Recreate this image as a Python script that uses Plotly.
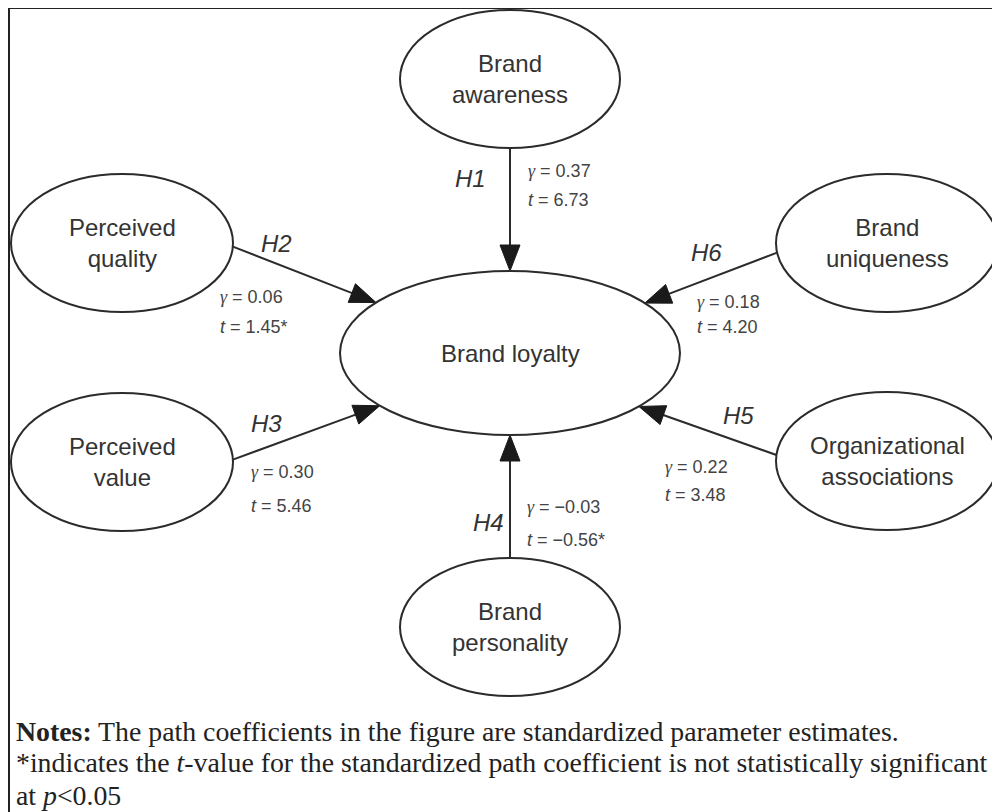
import math
import plotly.graph_objects as go

# ---------------- data ----------------
node_names = ["Brand awareness", "Perceived quality", "Brand uniqueness", "Brand loyalty",
              "Perceived value", "Organizational associations", "Brand personality"]
node_labels = ["Brand<br>awareness", "Perceived<br>quality", "Brand<br>uniqueness", "Brand loyalty",
               "Perceived<br>value", "Organizational<br>associations", "Brand<br>personality"]
hypotheses = ["H1", "H2", "H3", "H4", "H5", "H6"]
edge_sources = ["Brand awareness", "Perceived quality", "Perceived value",
                "Brand personality", "Organizational associations", "Brand uniqueness"]
edge_target = "Brand loyalty"
gammas = [0.37, 0.06, 0.30, -0.03, 0.22, 0.18]
t_values = [6.73, 1.45, 5.46, -0.56, 3.48, 4.20]
significant = [True, False, True, False, True, True]
notes_lines = [
    "<b>Notes:</b> The path coefficients in the figure are standardized parameter estimates.",
    "*indicates the <i>t</i>-value for the standardized path coefficient is not statistically significant",
    "at <i>p</i>&lt;0.05",
]

# ---------------- layout geometry (pixels, y downward) ----------------
PAGE_W, PAGE_H, BODY = 1000, 812, 8   # browser window and default page margin
node_geom = {  # center x, center y, rx, ry
    "Brand awareness": (510, 79, 110, 69),
    "Perceived quality": (122, 243, 111, 69),
    "Brand uniqueness": (887, 243, 111, 69),
    "Brand loyalty": (510, 353, 170, 82),
    "Perceived value": (122, 462, 111, 69),
    "Organizational associations": (887, 461, 111, 69),
    "Brand personality": (510, 627, 110, 69),
}
# attach angles (deg) on source ellipse and on target ellipse
edge_angles = {
    "H1": (90, 270),
    "H2": (3, 218),
    "H3": (-2, 140),
    "H4": (270, 90),
    "H5": (185, 40.7),
    "H6": (172, 322.5),
}
h_label_pos = {"H1": (470, 178), "H2": (276, 243), "H3": (266, 423),
               "H4": (488, 522), "H5": (738, 415), "H6": (706, 252)}
coef_pos = {  # left x, gamma-line y, t-line y
    "H1": (526, 171, 200), "H2": (218, 297, 327), "H3": (249, 472, 506),
    "H4": (525, 507, 540), "H5": (663, 467, 495), "H6": (695, 302, 327),
}
notes_pos = [(14, 731), (14, 762), (14, 795)]

INK = "#2b2b2b"
TXT = "#333333"
COEF = "#444444"
HEAD_L, HEAD_W = 26, 20
GAMMA = '<span style="font-family:Liberation Serif;font-style:italic">γ</span>'


def pt(name, ang):
    cx, cy, rx, ry = node_geom[name]
    a = math.radians(ang)
    return cx + rx * math.cos(a), cy + ry * math.sin(a)


fig = go.Figure()
shapes = []
annotations = []

# frame
shapes.append(dict(type="rect", xref="x", yref="y", x0=9, y0=8, x1=1015, y1=830,
                   line=dict(color="#222222", width=2), fillcolor="rgba(0,0,0,0)", layer="below"))

# ellipses
for name, lab in zip(node_names, node_labels):
    cx, cy, rx, ry = node_geom[name]
    shapes.append(dict(type="circle", xref="x", yref="y", x0=cx - rx, x1=cx + rx,
                       y0=cy - ry, y1=cy + ry, line=dict(color=INK, width=2),
                       fillcolor="rgba(0,0,0,0)"))
    annotations.append(dict(x=cx, y=cy, xref="x", yref="y", text=lab, showarrow=False,
                            font=dict(family="Liberation Sans, Arial", size=24, color=TXT),
                            xanchor="center", yanchor="middle", align="center"))

# arrows
for hyp, src, g, tv, sig in zip(hypotheses, edge_sources, gammas, t_values, significant):
    a_src, a_tgt = edge_angles[hyp]
    sx, sy = pt(src, a_src)
    tx, ty = pt(edge_target, a_tgt)
    dx, dy = tx - sx, ty - sy
    d = math.hypot(dx, dy)
    ux, uy = dx / d, dy / d
    nx, ny = -uy, ux
    bx, by = tx - HEAD_L * ux, ty - HEAD_L * uy
    fig.add_trace(go.Scatter(x=[sx, bx + ux], y=[sy, by + uy], mode="lines",
                             line=dict(color=INK, width=2), hoverinfo="skip", showlegend=False))
    fig.add_trace(go.Scatter(x=[tx, bx + nx * HEAD_W / 2, bx - nx * HEAD_W / 2, tx],
                             y=[ty, by + ny * HEAD_W / 2, by - ny * HEAD_W / 2, ty],
                             mode="lines", fill="toself", fillcolor="#1a1a1a",
                             line=dict(color="#1a1a1a", width=1), hoverinfo="skip", showlegend=False))
    hx, hy = h_label_pos[hyp]
    annotations.append(dict(x=hx, y=hy, xref="x", yref="y", text=f"<i>{hyp}</i>", showarrow=False,
                            font=dict(family="Liberation Sans, Arial", size=24, color=TXT),
                            xanchor="center", yanchor="middle"))
    lx, gy, ty2 = coef_pos[hyp]
    gtxt = f"{g:.2f}".replace("-", "−")
    ttxt = f"{tv:.2f}".replace("-", "−") + ("" if sig else "*")
    annotations.append(dict(x=lx, y=gy, xref="x", yref="y", text=f"{GAMMA} = {gtxt}",
                            showarrow=False, xanchor="left", yanchor="middle",
                            font=dict(family="Liberation Sans, Arial", size=18, color=COEF)))
    annotations.append(dict(x=lx, y=ty2, xref="x", yref="y", text=f"<i>t</i> = {ttxt}",
                            showarrow=False, xanchor="left", yanchor="middle",
                            font=dict(family="Liberation Sans, Arial", size=18, color=COEF)))

# notes
for (nx_, ny_), line in zip(notes_pos, notes_lines):
    annotations.append(dict(x=nx_, y=ny_, xref="x", yref="y", text=line, showarrow=False,
                            xanchor="left", yanchor="middle",
                            font=dict(family="Liberation Serif, Times New Roman", size=27.8,
                                      color="#222222")))

# the page places the figure BODY px in from the window's top-left corner,
# so the axes start at BODY to keep 1 unit = 1 window pixel
fig.update_layout(
    width=PAGE_W - BODY, height=PAGE_H - BODY, autosize=False,
    margin=dict(l=0, r=0, t=0, b=0),
    paper_bgcolor="white", plot_bgcolor="white",
    xaxis=dict(range=[BODY, PAGE_W], visible=False, fixedrange=True),
    yaxis=dict(range=[PAGE_H, BODY], visible=False, fixedrange=True),
    shapes=shapes, annotations=annotations, showlegend=False,
)
fig.write_html("out.html")
